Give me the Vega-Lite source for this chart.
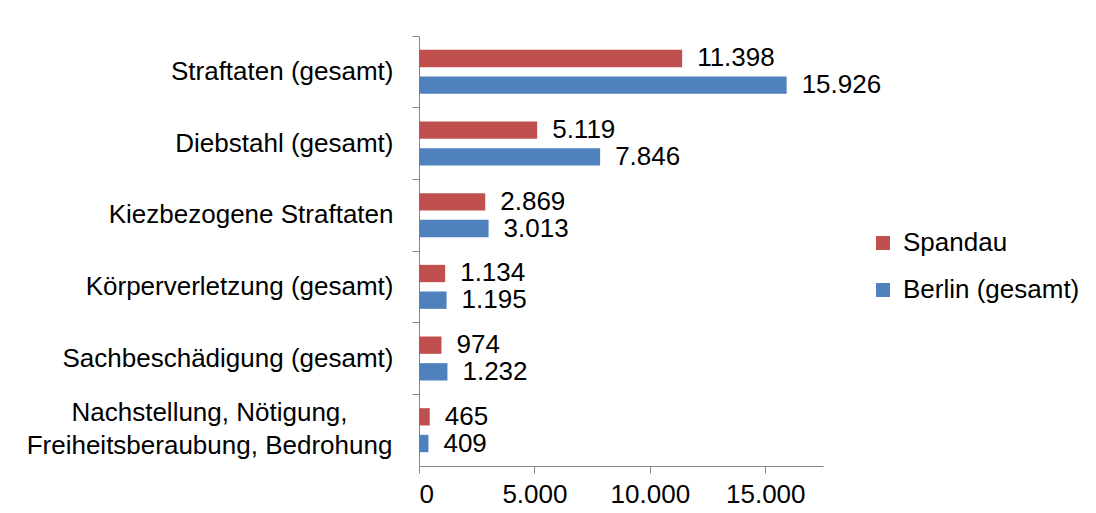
{
  "$schema": "https://vega.github.io/schema/vega-lite/v6.json",
  "autosize": "none",
  "width": 404,
  "height": 430,
  "padding": {"left": 419, "top": 36, "right": 273, "bottom": 47},
  "background": "white",
  "config": {
    "view": {"stroke": null},
    "font": "Liberation Sans",
    "locale": {"number": {"decimal": ",", "thousands": ".", "grouping": [3], "currency": ["", " €"]}}
  },
  "data": {
    "values": [
      {"kategorie": "Straftaten (gesamt)", "region": "Spandau", "wert": 11398},
      {"kategorie": "Straftaten (gesamt)", "region": "Berlin (gesamt)", "wert": 15926},
      {"kategorie": "Diebstahl (gesamt)", "region": "Spandau", "wert": 5119},
      {"kategorie": "Diebstahl (gesamt)", "region": "Berlin (gesamt)", "wert": 7846},
      {"kategorie": "Kiezbezogene Straftaten", "region": "Spandau", "wert": 2869},
      {"kategorie": "Kiezbezogene Straftaten", "region": "Berlin (gesamt)", "wert": 3013},
      {"kategorie": "Körperverletzung (gesamt)", "region": "Spandau", "wert": 1134},
      {"kategorie": "Körperverletzung (gesamt)", "region": "Berlin (gesamt)", "wert": 1195},
      {"kategorie": "Sachbeschädigung (gesamt)", "region": "Spandau", "wert": 974},
      {"kategorie": "Sachbeschädigung (gesamt)", "region": "Berlin (gesamt)", "wert": 1232},
      {"kategorie": "Nachstellung, Nötigung,|Freiheitsberaubung, Bedrohung", "region": "Spandau", "wert": 465},
      {"kategorie": "Nachstellung, Nötigung,|Freiheitsberaubung, Bedrohung", "region": "Berlin (gesamt)", "wert": 409}
    ]
  },
  "encoding": {
    "y": {
      "field": "kategorie",
      "type": "nominal",
      "sort": null,
      "scale": {"paddingInner": 0.386, "paddingOuter": 0.193},
      "axis": {
        "title": null,
        "bandPosition": -0.314,
        "domainColor": "#868686",
        "tickColor": "#868686",
        "tickSize": 7,
        "labelFontSize": 26,
        "labelColor": "#000000",
        "labelLimit": 500,
        "labelLineHeight": 33,
        "labelExpr": "split(datum.label, '|')",
        "labelOffset": {"condition": {"test": "indexof(datum.value, '|') >= 0", "value": -17}, "value": 0},
        "labelAlign": {"condition": {"test": "indexof(datum.value, '|') >= 0", "value": "center"}, "value": "right"},
        "labelPadding": {"condition": {"test": "indexof(datum.value, '|') >= 0", "value": 203}, "value": 19}
      }
    },
    "yOffset": {
      "field": "region",
      "type": "nominal",
      "scale": {"domain": ["Spandau", "Berlin (gesamt)"], "paddingInner": 0.35}
    },
    "x": {
      "field": "wert",
      "type": "quantitative",
      "scale": {"domain": [0, 17500], "nice": false},
      "axis": {
        "title": null,
        "values": [0, 5000, 10000, 15000],
        "format": ",d",
        "grid": false,
        "domainColor": "#868686",
        "tickColor": "#868686",
        "tickSize": 7,
        "labelFontSize": 26,
        "labelColor": "#000000",
        "labelPadding": 8
      }
    }
  },
  "layer": [
    {
      "mark": {"type": "bar"},
      "encoding": {
        "color": {
          "field": "region",
          "type": "nominal",
          "scale": {"domain": ["Spandau", "Berlin (gesamt)"], "range": ["#C0504D", "#4F81BD"]},
          "legend": {
            "title": null,
            "orient": "none",
            "legendX": 451,
            "legendY": 194,
            "padding": 0,
            "symbolType": "square",
            "symbolSize": 196,
            "symbolStrokeWidth": 0,
            "labelFontSize": 26,
            "labelColor": "#000000",
            "labelOffset": 7,
            "rowPadding": 21,
            "labelLimit": 300
          }
        }
      }
    },
    {
      "mark": {"type": "text", "align": "left", "baseline": "middle", "dx": 15, "fontSize": 26, "color": "#000000"},
      "encoding": {
        "text": {"field": "wert", "type": "quantitative", "format": ",d"}
      }
    }
  ]
}
